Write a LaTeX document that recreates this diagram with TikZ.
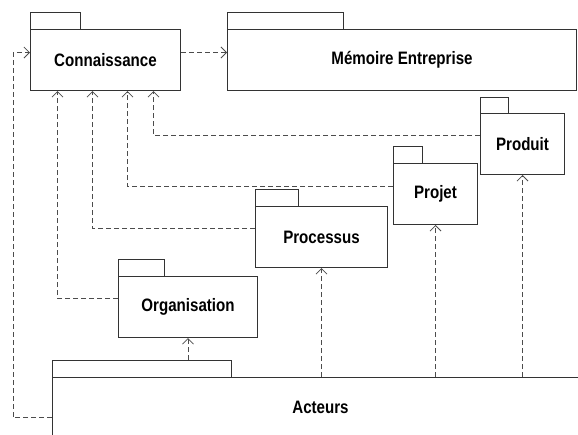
\documentclass[tikz,border=0pt]{standalone}
\usepackage{fontspec}
\setmainfont{Liberation Sans}
\usetikzlibrary{arrows.meta}
\newcommand\pkgtext[1]{\scalebox{0.84}[1]{#1}}
\begin{document}
\begin{tikzpicture}[x=1pt,y=-1pt,
  pkg/.style={draw=black!80, line width=1pt, fill=white, inner sep=0pt, anchor=north west,
    font=\bfseries\fontsize{18}{20}\selectfont},
  pkgtab/.style={draw=black!80, line width=1pt},
  dep/.style={draw=black!70, line width=0.9pt, dash pattern=on 5pt off 3pt,
    -{Straight Barb[length=5.5pt,width=11pt,line width=0.8pt]}},
  ]
\useasboundingbox (0,0) rectangle (578,434);
\clip (0,0) rectangle (578,434);

% package bodies
\node[pkg, minimum width=150pt, minimum height=61pt] (conn) at (30,29) {\pkgtext{Connaissance}};
\node[pkg, minimum width=349pt, minimum height=61pt] (mem) at (227,29) {\pkgtext{Mémoire Entreprise}};
\node[pkg, minimum width=84pt, minimum height=61pt] (prod) at (480,113) {\pkgtext{Produit}};
\node[pkg, minimum width=84pt, minimum height=61pt] (proj) at (393,163) {\pkgtext{Projet}};
\node[pkg, minimum width=132pt, minimum height=61pt] (proc) at (255,206) {\pkgtext{Processus}};
\node[pkg, minimum width=139pt, minimum height=61pt] (orga) at (118,276) {\pkgtext{Organisation}};
\node[pkg, minimum width=536pt, minimum height=60pt] (act) at (52,377) {\pkgtext{Acteurs}};

% package tabs
\draw[pkgtab] (conn.north west) rectangle ++(50,-17);
\draw[pkgtab] (mem.north west) rectangle ++(116,-17);
\draw[pkgtab] (prod.north west) rectangle ++(28,-16);
\draw[pkgtab] (proj.north west) rectangle ++(29,-17);
\draw[pkgtab] (proc.north west) rectangle ++(43,-17);
\draw[pkgtab] (orga.north west) rectangle ++(46,-17);
\draw[pkgtab] (act.north west) rectangle ++(179,-17);
\coordinate (acttab) at (52,360);

% dependencies
\draw[dep] ([yshift=7.5pt]conn.east) -- ([yshift=7.5pt]mem.west);
\draw[dep] ([yshift=-10pt]act.west) -| ([xshift=-17pt,yshift=7.5pt]conn.west) -- ([yshift=7.5pt]conn.west);
\draw[dep] ([yshift=8.5pt]prod.west) -| ([xshift=48pt]conn.south);
\draw[dep] ([yshift=7.5pt]proj.west) -| ([xshift=22pt]conn.south);
\draw[dep] ([yshift=8.5pt]proc.west) -| ([xshift=-13pt]conn.south);
\draw[dep] ([yshift=8.5pt]orga.west) -| ([xshift=-48pt]conn.south);
\draw[dep] (orga.south |- acttab) -- (orga.south);
\draw[dep] (proc.south |- act.north) -- (proc.south);
\draw[dep] (proj.south |- act.north) -- (proj.south);
\draw[dep] (prod.south |- act.north) -- (prod.south);
\end{tikzpicture}
\end{document}
